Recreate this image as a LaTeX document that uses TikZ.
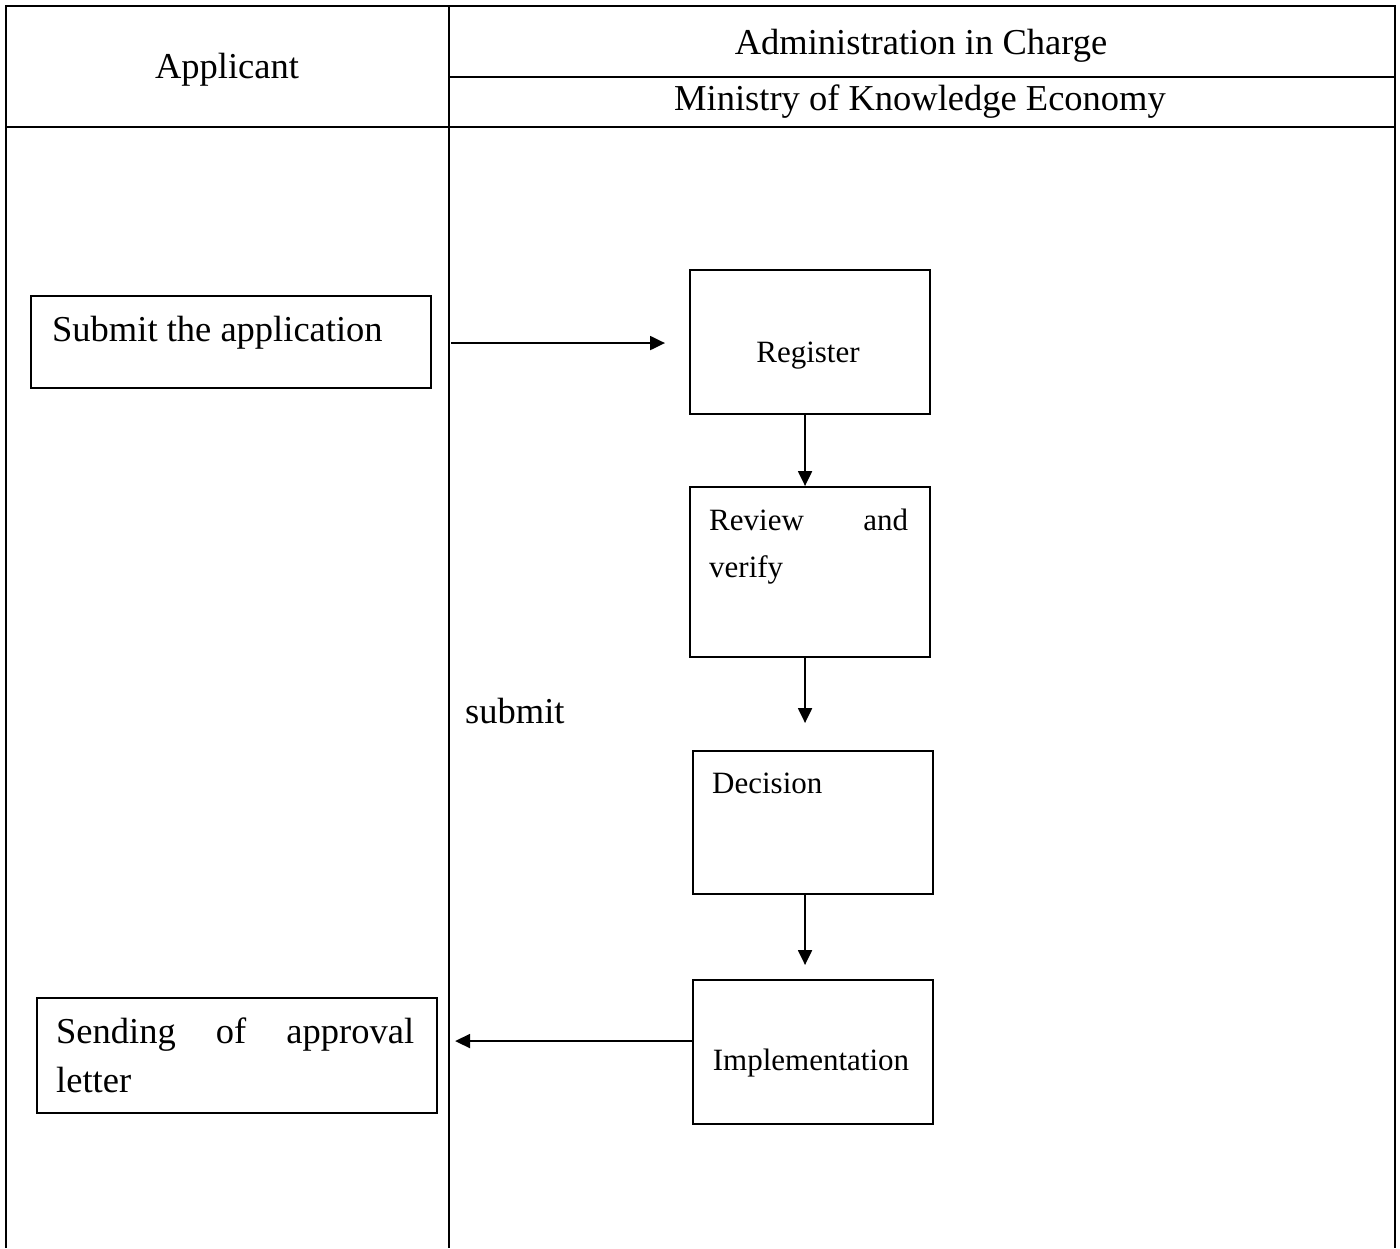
\documentclass[tikz,border=0pt]{standalone}
\usepackage{fontspec}
\setmainfont{Liberation Serif}
\usetikzlibrary{arrows.meta}
\begin{document}
\begin{tikzpicture}[x=1pt,y=-1pt,
  tbl/.style={line width=2.8pt},
  box/.style={draw, line width=2.1pt, rectangle, inner sep=0pt, anchor=north west},
  big/.style={font=\fontsize{36.5}{44}\selectfont, inner sep=0pt},
  small/.style={font=\fontsize{31}{37}\selectfont, inner sep=0pt},
  flow/.style={line width=2.1pt, -{Triangle[length=15pt,width=14pt]}}]
\useasboundingbox (0,0) rectangle (1400,1248);

% table frame
\draw[tbl] (6,1248) -- (6,6) -- (1395,6) -- (1395,1248);
\draw[tbl] (449,6) -- (449,1248);
\draw[tbl] (449,77) -- (1395,77);
\draw[tbl] (6,127) -- (1395,127);

% header texts
\node[big, anchor=base] (hApp) at (227,78) {Applicant};
\node[big, anchor=base] (hAdm) at (921,54) {Administration in Charge};
\node[big, anchor=base] (hMin) at (920,110) {Ministry of Knowledge Economy};

% boxes
\node[box, minimum width=400pt, minimum height=92pt] (sub) at (30,295) {};
\node[box, minimum width=240pt, minimum height=144pt] (reg) at (689,269) {};
\node[box, minimum width=240pt, minimum height=170pt] (rev) at (689,486) {};
\node[box, minimum width=240pt, minimum height=143pt] (dec) at (692,750) {};
\node[box, minimum width=240pt, minimum height=144pt] (imp) at (692,979) {};
\node[box, minimum width=400pt, minimum height=115pt] (snd) at (36,997) {};

% box texts
\node[big, anchor=base west] (tSub) at (52,341) {Submit the application};
\node[small, anchor=base] (tReg) at (808,362) {Register};
\node[small, anchor=base west] (tRev1) at (709,530) {\makebox[199pt][s]{Review and}};
\node[small, anchor=base west] (tRev2) at (709,577) {verify};
\node[small, anchor=base west] (tDec) at (712,793) {Decision};
\node[small, anchor=base] (tImp) at (811,1070) {Implementation};
\node[big, anchor=base west] (tSnd1) at (56,1043) {\makebox[358pt][s]{Sending of approval}};
\node[big, anchor=base west] (tSnd2) at (56,1092) {letter};
\node[big, anchor=base west] (tSubmit) at (465,723) {submit};

% connectors
\draw[flow, shorten <=19pt, shorten >=24pt] ([yshift=-1pt]sub.east) -- ([yshift=-1pt]sub.east -| reg.west);
\draw[flow] ([xshift=-5pt]reg.south) -- ([xshift=-5pt]rev.north);
\draw[flow, shorten >=27pt] ([xshift=-5pt]rev.south) -- ([xshift=-5pt]rev.south |- dec.north);
\draw[flow, shorten >=14pt] ([xshift=-8pt]dec.south) -- ([xshift=-8pt]dec.south |- imp.north);
\draw[flow, shorten >=17pt] ([yshift=11pt]imp.west) -- ([yshift=11pt]imp.west -| snd.east);
\end{tikzpicture}
\end{document}
